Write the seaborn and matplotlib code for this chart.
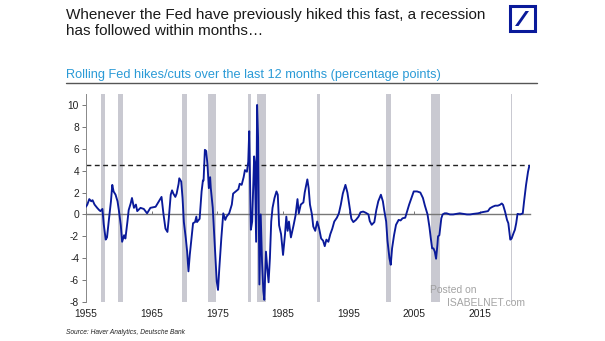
import matplotlib
matplotlib.use("Agg")
import matplotlib.pyplot as plt
import seaborn as sns
import pandas as pd
from matplotlib.patches import Rectangle, Polygon
from matplotlib.lines import Line2D

# ---------------- data ----------------
years = [1955.0, 1955.2, 1955.5, 1955.8, 1956.0, 1956.3, 1956.7, 1957.0, 1957.2, 1957.5,
         1957.7, 1958.0, 1958.2, 1958.5, 1958.8, 1959.0, 1959.2, 1959.5, 1959.8, 1960.0,
         1960.3, 1960.5, 1960.8, 1961.0, 1961.3, 1961.5, 1961.8, 1962.0, 1962.3, 1962.6,
         1962.8, 1963.3, 1963.8, 1964.3, 1964.8, 1965.6, 1966.1, 1966.5, 1966.8, 1967.1,
         1967.4, 1967.6, 1967.9, 1968.1, 1968.3, 1968.6, 1968.8, 1969.1, 1969.2, 1969.5,
         1969.7, 1969.9, 1970.2, 1970.4, 1970.6, 1970.8, 1971.1, 1971.3, 1971.6, 1971.8,
         1971.9, 1972.3, 1972.6, 1972.8, 1972.9, 1973.1, 1973.3, 1973.5, 1973.7, 1973.9,
         1974.0, 1974.3, 1974.5, 1974.7, 1974.9, 1975.1, 1975.3, 1975.6, 1975.8, 1975.9,
         1976.2, 1976.4, 1976.8, 1977.2, 1977.4, 1977.8, 1978.2, 1978.4, 1978.7, 1979.0,
         1979.2, 1979.5, 1979.7, 1979.85, 1980.1, 1980.3, 1980.6, 1980.7, 1980.9, 1981.05,
         1981.2, 1981.4, 1981.6, 1981.8, 1982.0, 1982.15, 1982.4, 1982.6, 1982.8, 1983.0,
         1983.2, 1983.4, 1983.7, 1984.0, 1984.2, 1984.4, 1984.7, 1985.0, 1985.3, 1985.5,
         1985.7, 1985.9, 1986.2, 1986.6, 1986.9, 1987.2, 1987.4, 1987.7, 1988.1, 1988.3,
         1988.7, 1988.9, 1989.1, 1989.4, 1989.6, 1989.9, 1990.2, 1990.5, 1990.8, 1991.1,
         1991.35, 1991.6, 1991.9, 1992.2, 1992.5, 1992.8, 1993.2, 1993.5, 1993.8, 1994.1,
         1994.5, 1994.8, 1995.1, 1995.4, 1995.7, 1996.1, 1996.5, 1996.8, 1997.2, 1997.6,
         1998.0, 1998.2, 1998.5, 1998.9, 1999.2, 1999.5, 1999.9, 2000.2, 2000.4, 2000.7,
         2000.9, 2001.2, 2001.4, 2001.6, 2001.9, 2002.2, 2002.6, 2002.9, 2003.2, 2003.6,
         2003.8, 2004.2, 2004.6, 2004.9, 2005.4, 2005.9, 2006.3, 2006.6, 2007.0, 2007.3,
         2007.5, 2007.7, 2007.9, 2008.1, 2008.3, 2008.5, 2008.6, 2008.8, 2009.1, 2009.3,
         2009.6, 2009.9, 2010.4, 2010.9, 2011.4, 2011.9, 2012.5, 2013.0, 2013.5, 2014.0,
         2014.7, 2015.3, 2015.8, 2016.2, 2016.5, 2016.9, 2017.3, 2017.7, 2018.0, 2018.3,
         2018.5, 2018.8, 2019.1, 2019.3, 2019.6, 2019.8, 2020.1, 2020.3, 2020.5, 2020.7,
         2021.1, 2021.5, 2021.7, 2022.0, 2022.3, 2022.5]
hikes = [0.7, 0.9, 1.4, 1.2, 1.3, 0.9, 0.6, 0.4, 0.3, 0.5,
         -0.9, -2.3, -2.1, -0.4, 1.2, 2.7, 2.1, 1.8, 1.2, 0.4,
         -1.0, -2.5, -1.9, -2.2, -0.7, 0.4, 1.0, 1.5, 0.6, 0.9,
         0.3, 0.6, 0.5, 0.1, 0.6, 0.7, 1.2, 1.6, 0.0, -1.3,
         -1.6, -0.4, 1.8, 2.2, 1.9, 1.6, 1.9, 2.8, 3.3, 3.0,
         1.5, -0.7, -2.2, -3.4, -5.2, -3.7, -1.9, -0.8, -0.7, -0.2,
         -0.7, -0.4, 2.1, 3.1, 3.1, 5.9, 5.8, 4.5, 2.4, 3.4,
         2.4, 0.6, -1.6, -3.7, -6.1, -6.9, -4.9, -2.2, -0.7, 0.1,
         -0.5, -0.2, 0.1, 0.9, 1.9, 2.1, 2.3, 2.8, 2.7, 3.4,
         4.05, 3.9, 4.8, 7.6, -1.4, -0.65, 5.3, 4.8, -2.5, 10.0,
         7.0, -6.4, 0.0, -4.3, -7.0, -7.8, -3.4, -4.9, -6.2, -4.0,
         -0.65, 0.6, 1.5, 2.1, 1.8, -1.0, -1.8, -3.7, -1.8, -0.2,
         -1.5, -0.65, -2.1, -1.0, -0.1, 1.4, 0.1, 0.9, 1.1, 2.0,
         3.2, 2.4, 0.9, 0.0, -1.1, -1.5, -0.65, -1.3, -2.2, -2.4,
         -2.9, -2.3, -2.5, -1.8, -1.3, -0.65, -0.3, 0.1, 0.9, 1.9,
         2.7, 2.0, 0.8, -0.4, -0.7, -0.5, -0.2, 0.2, 0.26, 0.15,
         0.0, -0.6, -0.95, -0.7, 0.4, 1.2, 1.8, 1.2, 0.4, -0.65,
         -2.4, -4.0, -4.6, -3.1, -1.9, -0.95, -0.5, -0.55, -0.35, -0.3,
         0.1, 0.9, 1.6, 2.1, 2.1, 2.0, 1.5, 0.8, 0.0, -1.2,
         -2.2, -3.1, -3.1, -3.4, -4.05, -2.8, -2.0, -1.9, -0.35, 0.0,
         0.1, 0.1, 0.0, 0.0, 0.05, 0.1, 0.05, 0.0, 0.0, 0.05,
         0.1, 0.2, 0.26, 0.3, 0.56, 0.7, 0.8, 0.8, 0.87, 1.0,
         0.87, 0.26, -0.5, -0.8, -2.3, -2.2, -1.7, -1.4, -0.8, 0.05,
         0.0, 0.1, 1.2, 2.7, 3.9, 4.45]

recession_start = [1957.3, 1959.9, 1969.6, 1973.5, 1979.6, 1981.1, 1990.1, 2000.7, 2007.5, 2019.65]
recession_end   = [1957.9, 1960.7, 1970.4, 1974.8, 1980.1, 1982.4, 1990.7, 2001.4, 2008.9, 2019.8]

threshold = 4.5
x_ticks = [1955, 1965, 1975, 1985, 1995, 2005, 2015]
y_ticks = [-8, -6, -4, -2, 0, 2, 4, 6, 8, 10]

title_lines = ["Whenever the Fed have previously hiked this fast, a recession",
               "has followed within months\u2026"]
subtitle = "Rolling Fed hikes/cuts over the last 12 months (percentage points)"
source = "Source: Haver Analytics, Deutsche Bank"

# ---------------- style ----------------
sns.set_theme(style="white")
plt.rcParams["font.family"] = ["Liberation Sans", "DejaVu Sans"]

W, H = 605, 341
fig = plt.figure(figsize=(W / 100, H / 100), dpi=100)
fig.patch.set_facecolor("white")

ax_l, ax_r, ax_t, ax_b = 86, 530, 94, 302
ax = fig.add_axes([ax_l / W, 1 - ax_b / H, (ax_r - ax_l) / W, (ax_b - ax_t) / H])
ax.set_facecolor("white")

# recession shading
for s, e in zip(recession_start, recession_end):
    ax.axvspan(s, e, color="#c9c9d1", lw=0, zorder=0)

# threshold line
ax.axhline(threshold, color="#222222", lw=1.0, ls=(0, (3.5, 2.5)), zorder=2)

df = pd.DataFrame({"year": years, "hikes": hikes})
sns.lineplot(data=df, x="year", y="hikes", ax=ax, color="#0a1a9a", lw=1.35,
             zorder=4, estimator=None, sort=False)

ax.set_xlim(1955, 2022.6)
ax.set_ylim(-8, 11)
ax.set_xlabel("")
ax.set_ylabel("")

ax.set_yticks(y_ticks)
ax.set_yticklabels([str(v) for v in y_ticks])
ax.set_xticks(x_ticks)
ax.set_xticklabels([str(v) for v in x_ticks])
ax.tick_params(axis="y", which="both", left=True, length=3, width=0.7,
               color="#777777", labelsize=7.4, labelcolor="#222222", pad=2)
ax.tick_params(axis="x", which="both", bottom=False, length=0,
               labelsize=7.4, labelcolor="#222222", pad=5)

for side in ["top", "right", "bottom"]:
    ax.spines[side].set_visible(False)
ax.spines["left"].set_color("#888888")
ax.spines["left"].set_linewidth(0.7)

# zero line with small ticks
zero_frac = (0 - (-8)) / (11 - (-8))
sec = ax.secondary_xaxis(zero_frac)
sec.set_xticks(x_ticks)
sec.set_xticklabels([""] * len(x_ticks))
sec.tick_params(axis="x", length=2.5, width=0.7, color="#777777", direction="in")
sec.spines["bottom"].set_color("#777777")
sec.spines["bottom"].set_linewidth(1.0)
sec.spines["top"].set_visible(False)
for s in ["left", "right"]:
    sec.spines[s].set_visible(False)
sec.set_zorder(3)

# ---------------- header ----------------
for i, line in enumerate(title_lines):
    fig.text(66 / W, 1 - (19 + 16 * i) / H, line, ha="left", va="baseline",
             fontsize=11, color="#1a1a1a")
fig.text(66 / W, 1 - 78 / H, subtitle, ha="left", va="baseline", fontsize=9.2,
         color="#2a9ad6")
fig.add_artist(Line2D([66 / W, 537 / W], [1 - 83 / H, 1 - 83 / H],
                      color="#555555", lw=1.0, transform=fig.transFigure))

# Deutsche Bank logo
lx0, ly0, lsz = 510, 6, 25
fig.add_artist(Rectangle((lx0 / W, 1 - (ly0 + lsz) / H), lsz / W, lsz / H,
                         transform=fig.transFigure, facecolor="white",
                         edgecolor="#0a1a9a", lw=2.2))
slash = [(lx0 + 5, ly0 + 20), (lx0 + 8.5, ly0 + 20), (lx0 + 19, ly0 + 5), (lx0 + 15.5, ly0 + 5)]
fig.add_artist(Polygon([(px / W, 1 - py / H) for px, py in slash], closed=True,
                       transform=fig.transFigure, facecolor="#0a1a9a", edgecolor="none"))

# watermark
fig.text(430 / W, 1 - 290 / H, "Posted on", ha="left", va="center", fontsize=7.5,
         color="#9a9a9a", alpha=0.9)
fig.text(447 / W, 1 - 303 / H, "ISABELNET.com", ha="left", va="center", fontsize=7.5,
         color="#9a9a9a", alpha=0.9)

# source
fig.text(66 / W, 1 - 332 / H, source, ha="left", va="center", fontsize=4.8,
         style="italic", color="#222222")

fig.savefig("out.png", dpi=100, facecolor="white")
